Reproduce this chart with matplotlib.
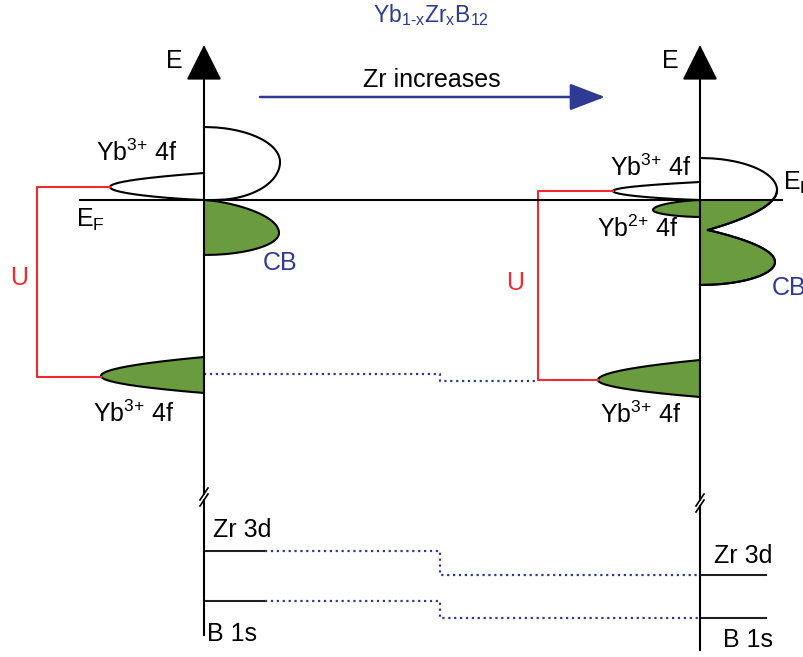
import numpy as np
import matplotlib.pyplot as plt

plt.rcParams['font.family'] = ['Liberation Sans', 'DejaVu Sans']
plt.rcParams['mathtext.fontset'] = 'custom'
plt.rcParams['mathtext.rm'] = 'Liberation Sans'
plt.rcParams['mathtext.it'] = 'Liberation Sans'

GREEN = '#6a9b3e'
BLUE = '#2e3a94'
RED = '#ee2a2f'

# energy scale in drawing units (y grows downward)
axis_x = [204, 700]
axis_bottom = [635, 650]
axis_break = [497, 503]
ef_y = 200
ef_span = [80, 782]

# lobes: (top end, tip, bottom end, roundness top, roundness bottom)
yb3_upper_left = [(204, 173), (110, 187), (204, 200), 1.0, 0.8]
empty_left = [(204, 127), (280, 162), (215, 200), 0.5, 0.5]
cb_left = [(204, 200), (279, 233), (204, 255), 0.7, 0.5]
yb3_lower_left = [(204, 357), (101, 376), (204, 393), 1.0, 1.0]

yb3_upper_right = [(700, 182), (613, 191), (700, 200), 1.0, 0.8]
empty_right = [(700, 158), (777, 190), (708, 230), 0.5, 1.0]
cb_right = [(708, 230), (775, 262), (700, 285), 1.0, 0.5]
yb2_right = [(700, 200), (653, 210), (700, 217), 0.7, 0.6]
yb3_lower_right = [(700, 360), (598, 380), (700, 397), 1.0, 1.0]

# Hubbard U brackets: upper 4f tip -> lower 4f tip
u_left = dict(x=37, y=[187, 377], ends=[110, 101])
u_right = dict(x=538, y=[191, 380], ends=[613, 598])

# core levels, left (low Zr) and right (high Zr)
core_names = ['Zr 3d', 'B 1s']
core_left = [551, 601]
core_right = [575, 618]
yb4f_dotted = [374, 381]
step_x = 440


def half(p, tip, r, n=80):
    v = np.linspace(0, 1, n)
    y = tip[1] + (p[1] - tip[1]) * v
    x = p[0] + (tip[0] - p[0]) * (1 - v ** 2) ** r
    return x, y


def lobe(top, tip, bottom, rt, rb):
    xt, yt = half(top, tip, rt)
    xb, yb = half(bottom, tip, rb)
    return np.r_[xt[::-1], xb], np.r_[yt[::-1], yb]


def draw_lobe(ax, spec, fill):
    x, y = lobe(*spec)
    ax.fill(np.r_[x, spec[0][0]], np.r_[y, spec[0][1]], color=fill, lw=0, zorder=2)
    ax.plot(x, y, color='black', lw=1.5, zorder=3)


fig = plt.figure(figsize=(8.04, 6.57), dpi=100)
ax = fig.add_axes([0, 0, 1, 1])
ax.set_xlim(0, 804)
ax.set_ylim(657, 0)
ax.axis('off')

fs = 18

# energy axes with break marks
for x0, yb, ybr in zip(axis_x, axis_bottom, axis_break):
    ax.plot([x0, x0], [yb, ybr + 3], color='black', lw=1.5, zorder=4)
    ax.annotate('', xy=(x0, 45), xytext=(x0, ybr - 3),
                arrowprops=dict(arrowstyle='-|>,head_length=0.9,head_width=0.45',
                                mutation_scale=25, lw=1.5, color='black',
                                shrinkA=0, shrinkB=0), zorder=4)
    for d in (-3, 3):
        ax.plot([x0 - 4, x0 + 4], [ybr + d + 6, ybr + d - 6], color='black', lw=1.2, zorder=4)
    ax.text(x0 - 38, 68, 'E', fontsize=fs, ha='left', va='baseline')

# Fermi level
ax.plot(ef_span, [ef_y, ef_y], color='black', lw=1.5, zorder=5)

# left: low Zr
draw_lobe(ax, empty_left, 'white')
draw_lobe(ax, yb3_upper_left, 'white')
draw_lobe(ax, cb_left, GREEN)
draw_lobe(ax, yb3_lower_left, GREEN)

# right: high Zr, 4f band touching E_F merges with CB
draw_lobe(ax, empty_right, 'white')
draw_lobe(ax, cb_right, GREEN)
xe, ye = half(empty_right[2], empty_right[1], empty_right[4])
keep = ye >= ef_y
x_ef = np.interp(ef_y, ye, xe)
xc, yc = lobe(*cb_right)
gx = np.r_[axis_x[1], x_ef, xe[keep], xc, axis_x[1]]
gy = np.r_[ef_y, ef_y, ye[keep], yc, cb_right[2][1]]
ax.fill(gx, gy, color=GREEN, lw=0, zorder=2)
ax.plot(xe, ye, color='black', lw=1.5, zorder=3)
ax.plot(xc, yc, color='black', lw=1.5, zorder=3)
draw_lobe(ax, yb3_upper_right, 'white')
draw_lobe(ax, yb2_right, GREEN)
draw_lobe(ax, yb3_lower_right, GREEN)

# Hubbard U
for u in (u_left, u_right):
    ax.plot([u['ends'][0], u['x'], u['x'], u['ends'][1]],
            [u['y'][0], u['y'][0], u['y'][1], u['y'][1]], color=RED, lw=1.5, zorder=3)

# occupied 4f shift (dotted guide)
ax.plot([axis_x[0], step_x, step_x, u_right['x']],
        [yb4f_dotted[0], yb4f_dotted[0], yb4f_dotted[1], yb4f_dotted[1]],
        color=BLUE, ls=':', lw=1.6, zorder=3)

# core levels
for yl, yr in zip(core_left, core_right):
    ax.plot([axis_x[0], axis_x[0] + 61], [yl, yl], color='#231f20', lw=1.5, zorder=3)
    ax.plot([axis_x[1], axis_x[1] + 66], [yr, yr], color='#231f20', lw=1.5, zorder=3)
    ax.plot([axis_x[0] + 61, step_x, step_x, axis_x[1]], [yl, yl, yr, yr],
            color=BLUE, ls=':', lw=1.6, zorder=3)

# labels
yb3 = r'Yb$^\text{3+}$ 4f'
ax.text(373, 22, r'Yb$_\text{1-x}$Zr$_\text{x}$B$_\text{12}$', color=BLUE,
        fontsize=16.5, ha='left', va='baseline')
ax.text(432, 87, 'Zr increases', fontsize=fs, ha='center', va='baseline')
ax.annotate('', xy=(605, 97), xytext=(260, 97),
            arrowprops=dict(arrowstyle='-|>,head_length=1.1,head_width=0.42',
                            mutation_scale=20, lw=1.8, color=BLUE,
                            shrinkA=0, shrinkB=0))

ax.text(96, 161, yb3, fontsize=fs, ha='left', va='baseline')
ax.text(93, 422, yb3, fontsize=fs, ha='left', va='baseline')
ax.text(76, 227, r'E$_\text{F}$', fontsize=fs, ha='left', va='baseline')
ax.text(263, 270, 'CB', color=BLUE, fontsize=fs, ha='left', va='baseline')
ax.text(19, 285, 'U', color=RED, fontsize=fs, ha='center', va='baseline')

ax.text(610, 176, yb3, fontsize=fs, ha='left', va='baseline')
ax.text(597, 237, r'Yb$^\text{2+}$ 4f', fontsize=fs, ha='left', va='baseline')
ax.text(600, 423, yb3, fontsize=fs, ha='left', va='baseline')
ax.text(783, 190, r'E$_\text{F}$', fontsize=fs, ha='left', va='baseline')
ax.text(772, 295, 'CB', color=BLUE, fontsize=fs, ha='left', va='baseline')
ax.text(515, 290, 'U', color=RED, fontsize=fs, ha='center', va='baseline')

ax.text(242, 537, core_names[0], fontsize=fs, ha='center', va='baseline')
ax.text(232, 641, core_names[1], fontsize=fs, ha='center', va='baseline')
ax.text(743, 563, core_names[0], fontsize=fs, ha='center', va='baseline')
ax.text(748, 647, core_names[1], fontsize=fs, ha='center', va='baseline')

fig.savefig('out.png', dpi=100)
